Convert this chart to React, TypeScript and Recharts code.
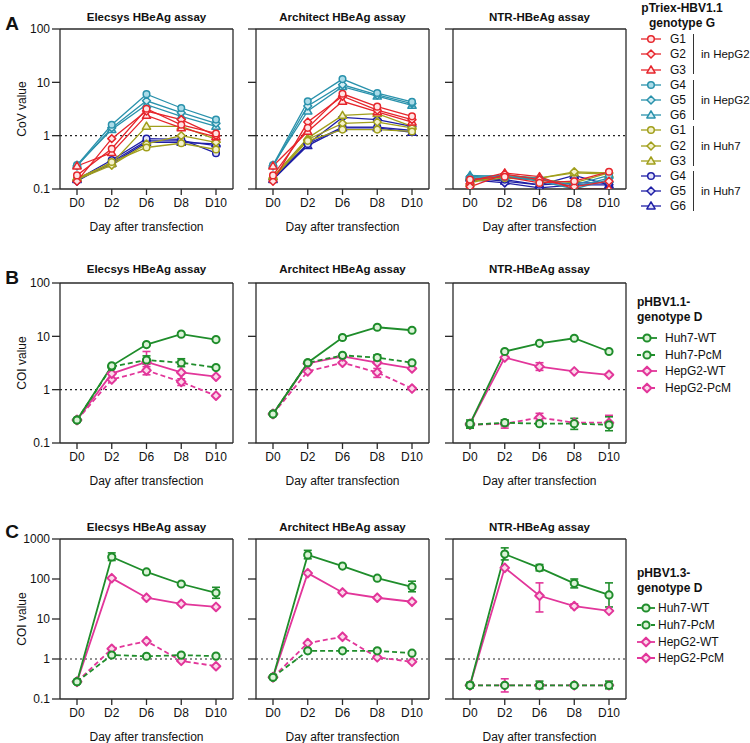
import React from "react";
import { LineChart, Line, XAxis, YAxis, ReferenceLine, ErrorBar } from "recharts";

const DAYS = ["D0", "D2", "D6", "D8", "D10"];
const TICKS_100 = [0.1, 1, 10, 100];
const TICKS_1000 = [0.1, 1, 10, 100, 1000];

// A: pTriex-HBV1.1 genotype G — order HepG2 G1..G6, then Huh7 G1..G6
const A_NAMES = ["G1", "G2", "G3", "G4", "G5", "G6", "G1", "G2", "G3", "G4", "G5", "G6"];
const A_GROUPS = ["in HepG2", "in HepG2", "in Huh7", "in Huh7"];

const A_ELECSYS = [
  [0.18, 0.57, 3.2, 1.6, 1.1],
  [0.14, 0.88, 2.9, 2.0, 1.0],
  [0.27, 0.48, 2.4, 1.4, 0.95],
  [0.28, 1.6, 6.0, 3.3, 2.0],
  [0.27, 1.4, 4.5, 2.7, 1.7],
  [0.28, 1.3, 3.8, 2.3, 1.5],
  [0.15, 0.32, 0.6, 0.72, 0.55],
  [0.15, 0.28, 0.7, 1.0, 0.75],
  [0.16, 0.3, 1.5, 1.5, 0.85],
  [0.15, 0.35, 0.88, 0.85, 0.47],
  [0.14, 0.32, 0.8, 0.8, 0.65],
  [0.15, 0.3, 0.75, 0.75, 0.7],
];
const A_ARCHITECT = [
  [0.18, 1.4, 6.1, 3.5, 2.3],
  [0.14, 1.8, 5.5, 3.0, 2.0],
  [0.27, 1.2, 4.4, 2.8, 1.8],
  [0.28, 4.4, 11.5, 6.3, 4.3],
  [0.27, 3.6, 9.0, 5.8, 4.0],
  [0.28, 2.9, 8.3, 5.5, 3.7],
  [0.16, 0.8, 1.3, 1.3, 1.2],
  [0.16, 0.85, 1.7, 1.8, 1.4],
  [0.17, 0.9, 2.4, 2.6, 1.5],
  [0.16, 0.7, 1.45, 1.45, 1.25],
  [0.15, 0.7, 2.2, 2.0, 1.5],
  [0.15, 0.65, 1.4, 1.4, 1.15],
];
const A_NTR = [
  [0.15, 0.17, 0.13, 0.14, 0.21],
  [0.11, 0.19, 0.15, 0.11, 0.14],
  [0.14, 0.2, 0.17, 0.1, 0.1],
  [0.16, 0.17, 0.15, 0.12, 0.18],
  [0.17, 0.18, 0.16, 0.11, 0.16],
  [0.18, 0.17, 0.14, 0.1, 0.15],
  [0.14, 0.16, 0.15, 0.13, 0.2],
  [0.15, 0.17, 0.16, 0.21, 0.2],
  [0.13, 0.18, 0.16, 0.2, 0.19],
  [0.16, 0.15, 0.12, 0.13, 0.13],
  [0.15, 0.13, 0.105, 0.12, 0.12],
  [0.16, 0.14, 0.12, 0.18, 0.12],
];

// B / C: Huh7-WT, Huh7-PcM, HepG2-WT, HepG2-PcM
const BC_NAMES = ["Huh7-WT", "Huh7-PcM", "HepG2-WT", "HepG2-PcM"];

const B_ELECSYS = [
  [0.27, 2.8, 7.0, 11, 8.7],
  [0.27, 2.7, 3.6, 3.2, 2.6],
  [0.27, 2.0, 3.3, 2.1, 1.75],
  [0.27, 1.55, 2.3, 1.4, 0.77],
];
const B_ELECSYS_ERR = [
  [null, null, null, null, null],
  [null, null, [3.0, 4.3], [2.7, 3.8], null],
  [null, null, [2.4, 5.2], null, null],
  [null, null, [1.9, 2.7], [1.2, 1.6], null],
];
const B_ARCHITECT = [
  [0.35, 3.2, 9.5, 14.8, 13],
  [0.35, 3.2, 4.4, 4.0, 3.2],
  [0.35, 3.1, 4.2, 3.2, 2.5],
  [0.35, 2.2, 3.2, 2.1, 1.05],
];
const B_ARCHITECT_ERR = [
  [null, null, null, null, null],
  [null, null, null, [3.5, 4.5], null],
  [null, null, null, null, null],
  [null, null, null, [1.7, 2.5], null],
];
const B_NTR = [
  [0.23, 5.2, 7.4, 9.2, 5.2],
  [0.22, 0.24, 0.23, 0.23, 0.22],
  [0.23, 4.0, 2.7, 2.2, 1.9],
  [0.22, 0.23, 0.3, 0.24, 0.24],
];
const B_NTR_ERR = [
  [[0.19, 0.27], null, null, null, null],
  [[0.19, 0.25], [0.21, 0.27], null, [0.18, 0.29], [0.17, 0.31]],
  [null, null, [2.3, 3.2], null, null],
  [null, [0.19, 0.27], [0.26, 0.36], null, [0.2, 0.33]],
];

const C_ELECSYS = [
  [0.27, 355, 150, 75, 45],
  [0.27, 1.26, 1.17, 1.25, 1.18],
  [0.27, 105, 34, 24, 20],
  [0.27, 1.8, 2.8, 0.9, 0.66],
];
const C_ELECSYS_ERR = [
  [null, [290, 450], null, null, [33, 62]],
  [null, null, null, null, null],
  [null, null, null, null, null],
  [null, null, null, null, null],
];
const C_ARCHITECT = [
  [0.35, 400, 210, 105, 64],
  [0.35, 1.6, 1.6, 1.6, 1.4],
  [0.35, 140, 46, 34, 27],
  [0.35, 2.5, 3.6, 1.1, 0.85],
];
const C_ARCHITECT_ERR = [
  [null, [320, 520], null, null, [48, 88]],
  [null, null, null, null, null],
  [null, null, null, null, null],
  [null, null, null, null, null],
];
const C_NTR = [
  [0.22, 420, 190, 78, 40],
  [0.22, 0.22, 0.22, 0.22, 0.22],
  [0.22, 190, 38, 21, 16],
  [0.22, 0.22, 0.22, 0.22, 0.22],
];
const C_NTR_ERR = [
  [null, [300, 600], [160, 230], [60, 100], [20, 80]],
  [[0.19, 0.26], null, [0.18, 0.28], null, [0.18, 0.28]],
  [null, null, [15, 80], [19, 24], null],
  [null, [0.15, 0.32], null, null, null],
];

// styles
const FONT = "'Liberation Sans', Arial, sans-serif";
const RED = "#e6262c";
const TEAL = "#2a92ac";
const OLIVE = "#a19f1c";
const BLUE = "#1f1fa6";
const GREEN = "#1f8d2b";
const MAGENTA = "#e2369a";

type Shape = "circle" | "diamond" | "triangle";
type Style = { color: string; fill: string; shape: Shape; dashed?: boolean };

const A_STYLES: Style[] = [
  { color: RED, fill: "#ffe4e4", shape: "circle" },
  { color: RED, fill: "#ffe4e4", shape: "diamond" },
  { color: RED, fill: "#ffe4e4", shape: "triangle" },
  { color: TEAL, fill: "#a9dbe8", shape: "circle" },
  { color: TEAL, fill: "#d6eef4", shape: "diamond" },
  { color: TEAL, fill: "#d6eef4", shape: "triangle" },
  { color: OLIVE, fill: "#f4f2cc", shape: "circle" },
  { color: OLIVE, fill: "#f4f2cc", shape: "diamond" },
  { color: OLIVE, fill: "#f4f2cc", shape: "triangle" },
  { color: BLUE, fill: "#e2e2fa", shape: "circle" },
  { color: BLUE, fill: "#e2e2fa", shape: "diamond" },
  { color: BLUE, fill: "#e2e2fa", shape: "triangle" },
];
const BC_STYLES: Style[] = [
  { color: GREEN, fill: "#dcf3d8", shape: "circle" },
  { color: GREEN, fill: "#dcf3d8", shape: "circle", dashed: true },
  { color: MAGENTA, fill: "#fbd9ea", shape: "diamond" },
  { color: MAGENTA, fill: "#fbd9ea", shape: "diamond", dashed: true },
];

function Marker({ cx, cy, st, r, sw }: { cx: number; cy: number; st: Style; r: number; sw: number }) {
  if (cx == null || cy == null || isNaN(cx) || isNaN(cy)) return null;
  if (st.shape === "circle")
    return <circle cx={cx} cy={cy} r={r} fill={st.fill} stroke={st.color} strokeWidth={sw} />;
  if (st.shape === "diamond") {
    const d = r * 1.2;
    return (
      <polygon
        points={`${cx},${cy - d} ${cx + d},${cy} ${cx},${cy + d} ${cx - d},${cy}`}
        fill={st.fill}
        stroke={st.color}
        strokeWidth={sw}
        strokeLinejoin="round"
      />
    );
  }
  const t = r * 1.25;
  return (
    <polygon
      points={`${cx},${cy - t} ${cx + t},${cy + t * 0.7} ${cx - t},${cy + t * 0.7}`}
      fill={st.fill}
      stroke={st.color}
      strokeWidth={sw}
      strokeLinejoin="round"
    />
  );
}

function buildRows(values: number[][], errs?: ([number, number] | null)[][]) {
  return DAYS.map((day, i) => {
    const row: Record<string, any> = { day };
    values.forEach((v, j) => {
      row["s" + j] = v[i];
      const e = errs ? errs[j][i] : null;
      row["e" + j] = e ? [v[i] - e[0], e[1] - v[i]] : [0, 0];
    });
    return row;
  });
}

const PLOT_W = 173;
const PLOT_H = 160;
const M_TOP = 10;

function Panel({
  left,
  top,
  rows,
  styles,
  order,
  ticks,
  showTickLabels,
  lineWidth,
  r,
  sw,
  errors,
}: {
  left: number;
  top: number;
  rows: any[];
  styles: Style[];
  order: number[];
  ticks: number[];
  showTickLabels: boolean;
  lineWidth: number;
  r: number;
  sw: number;
  errors: boolean;
}) {
  const axisLine = { stroke: "#2a2a2a", strokeWidth: 1.3 };
  return (
    <div style={{ position: "absolute", left: left - 60, top: top - M_TOP - 1 }}>
      <LineChart
        width={60 + PLOT_W + 1 + 4}
        height={M_TOP + 1 + PLOT_H + 30}
        data={rows}
        margin={{ top: M_TOP, right: 4, bottom: 0, left: 0 }}
      >
        <XAxis
          dataKey="day"
          scale="point"
          padding={{ left: 17, right: 17 }}
          height={30}
          tickSize={6}
          tickMargin={3}
          interval={0}
          axisLine={axisLine}
          tickLine={axisLine}
          tick={{ fontSize: 12, fill: "#111", fontFamily: FONT }}
        />
        <XAxis xAxisId="top" dataKey="day" orientation="top" height={1} tick={false} tickLine={false} axisLine={axisLine} />
        <YAxis
          type="number"
          scale="log"
          domain={[ticks[0], ticks[ticks.length - 1]]}
          allowDataOverflow
          ticks={ticks}
          interval={0}
          width={60}
          tickSize={8}
          tickMargin={2}
          axisLine={axisLine}
          tickLine={axisLine}
          tickFormatter={(v: number) => (showTickLabels ? String(v) : "")}
          tick={{ fontSize: 12, fill: "#111", fontFamily: FONT }}
        />
        <YAxis
          yAxisId="right"
          orientation="right"
          type="number"
          domain={[0, 1]}
          width={1}
          tick={false}
          tickLine={false}
          axisLine={axisLine}
        />
        <ReferenceLine y={1} stroke="#222" strokeDasharray="2 3" strokeWidth={1.2} />
        {order.map((j) => {
          const st = styles[j];
          return (
            <Line
              key={"s" + j}
              dataKey={"s" + j}
              stroke={st.color}
              strokeWidth={lineWidth}
              strokeDasharray={st.dashed ? "5 3" : undefined}
              isAnimationActive={false}
              activeDot={false}
              legendType="none"
              dot={(p: any) => <Marker key={`d${j}-${p.index}`} cx={p.cx} cy={p.cy} st={st} r={r} sw={sw} />}
            >
              {errors && (
                <ErrorBar dataKey={"e" + j} width={4} stroke={st.color} strokeWidth={1.6} direction="y" />
              )}
            </Line>
          );
        })}
      </LineChart>
    </div>
  );
}

function Swatch({ st, lw, r, sw, w }: { st: Style; lw: number; r: number; sw: number; w: number }) {
  return (
    <svg width={w} height={12} style={{ display: "block", overflow: "visible" }}>
      <line x1={0} x2={w} y1={6} y2={6} stroke={st.color} strokeWidth={lw} strokeDasharray={st.dashed ? "4 3" : undefined} />
      <Marker cx={w / 2} cy={6} st={st} r={r} sw={sw} />
    </svg>
  );
}

const text = (x: number, y: number, s: string, extra: React.CSSProperties = {}) => (
  <div
    style={{
      position: "absolute",
      left: x,
      top: y,
      transform: "translate(-50%, -50%)",
      whiteSpace: "nowrap",
      fontFamily: FONT,
      fontSize: 12,
      color: "#111",
      ...extra,
    }}
  >
    {s}
  </div>
);

const COL_LEFT = [60, 256, 453];
const TITLES = ["Elecsys HBeAg assay", "Architect HBeAg assay", "NTR-HBeAg assay"];
const ROW_TOP = [29, 283, 539];

export default function App() {
  const aOrder = [11, 10, 9, 8, 7, 6, 5, 4, 3, 2, 1, 0];
  const bcOrder = [3, 2, 1, 0];
  const aData = [A_ELECSYS, A_ARCHITECT, A_NTR];
  const bData = [B_ELECSYS, B_ARCHITECT, B_NTR];
  const bErr = [B_ELECSYS_ERR, B_ARCHITECT_ERR, B_NTR_ERR];
  const cData = [C_ELECSYS, C_ARCHITECT, C_NTR];
  const cErr = [C_ELECSYS_ERR, C_ARCHITECT_ERR, C_NTR_ERR];

  return (
    <div style={{ position: "absolute", left: 0, top: 0, width: 750, height: 743, background: "#fff", fontFamily: FONT }}>
      {/* panel letters */}
      {text(12, 24, "A", { fontSize: 19, fontWeight: 700 })}
      {text(12, 278, "B", { fontSize: 19, fontWeight: 700 })}
      {text(12, 532, "C", { fontSize: 19, fontWeight: 700 })}

      {/* y labels */}
      {text(22, ROW_TOP[0] + 80, "CoV value", { transform: "translate(-50%, -50%) rotate(-90deg)" })}
      {text(22, ROW_TOP[1] + 80, "COI value", { transform: "translate(-50%, -50%) rotate(-90deg)" })}
      {text(22, ROW_TOP[2] + 80, "COI value", { transform: "translate(-50%, -50%) rotate(-90deg)" })}

      {[0, 1, 2].map((c) => (
        <React.Fragment key={"col" + c}>
          {text(COL_LEFT[c] + PLOT_W / 2, ROW_TOP[0] - 12, TITLES[c], { fontWeight: 700, fontSize: 11.5 })}
          {text(COL_LEFT[c] + PLOT_W / 2, ROW_TOP[1] - 14, TITLES[c], { fontWeight: 700, fontSize: 11.5 })}
          {text(COL_LEFT[c] + PLOT_W / 2, ROW_TOP[2] - 12, TITLES[c], { fontWeight: 700, fontSize: 11.5 })}
          {ROW_TOP.map((t) => (
            <React.Fragment key={"xl" + c + t}>{text(COL_LEFT[c] + PLOT_W / 2, t + PLOT_H + 38, "Day after transfection")}</React.Fragment>
          ))}
          <Panel
            left={COL_LEFT[c]}
            top={ROW_TOP[0]}
            rows={buildRows(aData[c])}
            styles={A_STYLES}
            order={aOrder}
            ticks={TICKS_100}
            showTickLabels={c === 0}
            lineWidth={1.3}
            r={3.3}
            sw={1.5}
            errors={false}
          />
          <Panel
            left={COL_LEFT[c]}
            top={ROW_TOP[1]}
            rows={buildRows(bData[c], bErr[c] as any)}
            styles={BC_STYLES}
            order={bcOrder}
            ticks={TICKS_100}
            showTickLabels={c === 0}
            lineWidth={1.8}
            r={3.6}
            sw={2}
            errors
          />
          <Panel
            left={COL_LEFT[c]}
            top={ROW_TOP[2]}
            rows={buildRows(cData[c], cErr[c] as any)}
            styles={BC_STYLES}
            order={bcOrder}
            ticks={TICKS_1000}
            showTickLabels={c === 0}
            lineWidth={1.8}
            r={3.6}
            sw={2}
            errors
          />
        </React.Fragment>
      ))}

      {/* legend A */}
      <div style={{ position: "absolute", left: 622, top: 0.5, width: 120, textAlign: "center", fontWeight: 700, fontSize: 12, lineHeight: "15px", color: "#111" }}>
        pTriex-HBV1.1
        <br />
        genotype G
      </div>
      <div style={{ position: "absolute", left: 641, top: 31.7 }}>
        {A_GROUPS.map((g, gi) => (
          <div key={"g" + gi} style={{ display: "flex", height: 45.6, alignItems: "center" }}>
            <div style={{ width: 52 }}>
              {[0, 1, 2].map((k) => {
                const j = gi * 3 + k;
                return (
                  <div key={"it" + j} style={{ display: "flex", alignItems: "center", height: 15.2 }}>
                    <Swatch st={A_STYLES[j]} lw={1.3} r={3.3} sw={1.5} w={20} />
                    <span style={{ marginLeft: 9, fontSize: 12, color: "#111" }}>{A_NAMES[j]}</span>
                  </div>
                );
              })}
            </div>
            <div style={{ height: 40, borderLeft: "1.3px solid #333", display: "flex", alignItems: "center", paddingLeft: 7, fontSize: 11.5, color: "#111", whiteSpace: "nowrap" }}>
              {g}
            </div>
          </div>
        ))}
      </div>

      {/* legends B and C */}
      {[
        { top: 295, title: "pHBV1.1-", itemsTop: 330, row: 16.5, gap: 8, w: 20 },
        { top: 565.5, title: "pHBV1.3-", itemsTop: 600, row: 16.7, gap: 3, w: 18 },
      ].map((L, li) => (
        <React.Fragment key={"leg" + li}>
          <div style={{ position: "absolute", left: 637, top: L.top, fontWeight: 700, fontSize: 12, lineHeight: "15px", color: "#111" }}>
            {L.title}
            <br />
            genotype D
          </div>
          <div style={{ position: "absolute", left: 637, top: L.itemsTop }}>
            {BC_NAMES.map((n, j) => (
              <div key={"bc" + j} style={{ display: "flex", alignItems: "center", height: L.row }}>
                <Swatch st={BC_STYLES[j]} lw={1.8} r={3.6} sw={2} w={L.w} />
                <span style={{ marginLeft: L.gap, fontSize: 12, color: "#111" }}>{n}</span>
              </div>
            ))}
          </div>
        </React.Fragment>
      ))}
    </div>
  );
}
